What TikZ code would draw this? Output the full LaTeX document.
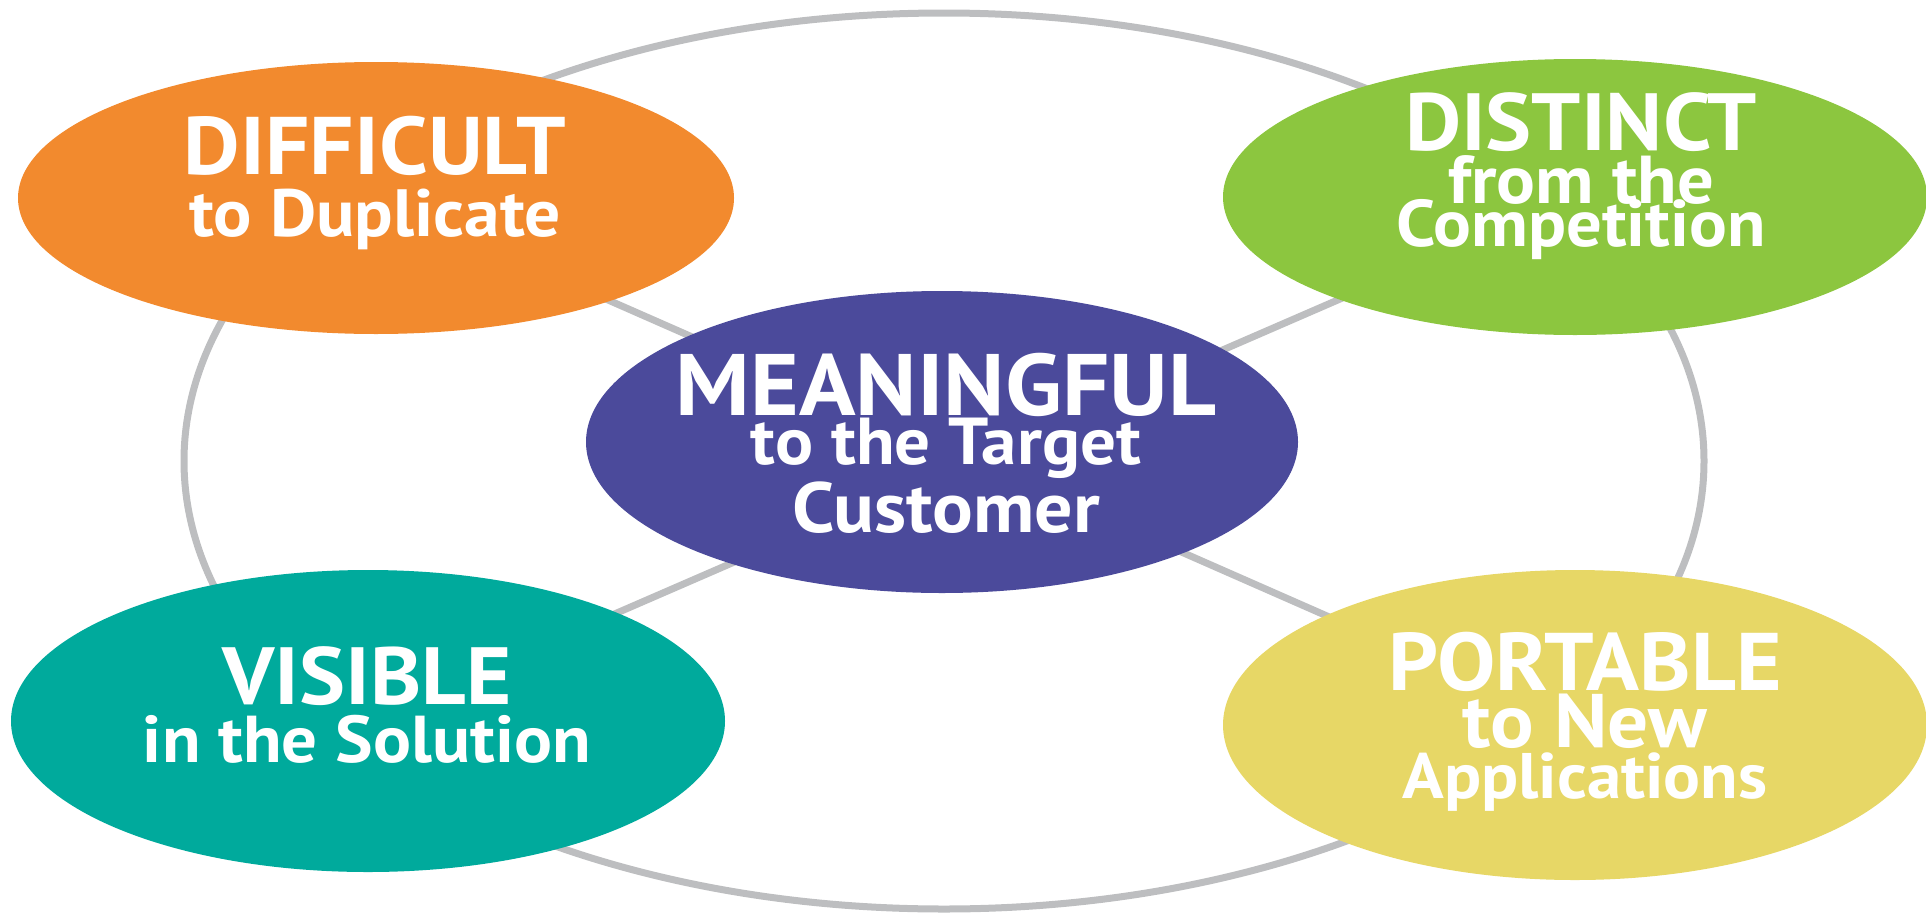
\documentclass[tikz,border=0pt]{standalone}
\usepackage{fontspec}
\usepackage{graphicx}
\newfontfamily\lblfont{PT Sans}[UprightFont={* Bold}, FakeStretch=1.07]
\usetikzlibrary{shapes.geometric,backgrounds}

\definecolor{ringgray}{HTML}{BDBEC0}
\definecolor{cOrange}{HTML}{F28A2E}
\definecolor{cGreen}{HTML}{8CC63F}
\definecolor{cPurple}{HTML}{4B4A9B}
\definecolor{cTeal}{HTML}{00AA9C}
\definecolor{cYellow}{HTML}{E7D766}

\tikzset{
  blob/.style={ellipse, inner sep=0pt, draw=none},
  txt/.style={anchor=base, text=white, inner sep=0pt, font=\lblfont\fontsize{60}{60}\selectfont},
  link/.style={draw=ringgray, line width=7pt},
}
% a line of label text, scaled to a given width
\newcommand{\fitto}[2]{\resizebox{#1pt}{!}{#2}}

\begin{document}
\begin{tikzpicture}[x=1pt,y=-1pt]
  \useasboundingbox (0,0) rectangle (1926,918);

  % the five qualities
  \node[blob, fill=cOrange, minimum width=716pt, minimum height=272pt] (difficult)  at (376,198) {};
  \node[blob, fill=cGreen,  minimum width=704pt, minimum height=276pt] (distinct)   at (1575,197) {};
  \node[blob, fill=cPurple, minimum width=712pt, minimum height=302pt] (meaningful) at (942,442) {};
  \node[blob, fill=cTeal,   minimum width=714pt, minimum height=302pt] (visible)    at (368,721) {};
  \node[blob, fill=cYellow, minimum width=704pt, minimum height=310pt] (portable)   at (1575,725) {};

  % grey ring and diagonals behind the ellipses
  \begin{scope}[on background layer]
    \node[ellipse, draw=ringgray, line width=7pt, inner sep=0pt,
          minimum width=1520pt, minimum height=896pt] (ring) at (944,461) {};
    \draw[link] (difficult.center) -- (portable.center);
    \draw[link] (distinct.center) -- (visible.center);
  \end{scope}

  % labels
  \node[txt] (t1a) at (375,174) {\fitto{382}{DIFFICULT}};
  \node[txt] (t1b) at (375,236) {\fitto{372}{to Duplicate}};

  \node[txt] (t2a) at (1581,150) {\fitto{352}{DISTINCT}};
  \node[txt] (t2b) at (1581,203) {\fitto{266}{from the}};
  \node[txt] (t2c) at (1581,246) {\fitto{369}{Competition}};

  \node[txt] (t3a) at (946,415) {\fitto{540}{MEANINGFUL}};
  \node[txt] (t3b) at (946,464) {\fitto{390}{to the Target}};
  \node[txt] (t3c) at (946,532) {\fitto{308}{Customer}};

  \node[txt] (t4a) at (367,704) {\fitto{289}{VISIBLE}};
  \node[txt] (t4b) at (367,762) {\fitto{448}{in the Solution}};

  \node[txt] (t5a) at (1585,690) {\fitto{394}{PORTABLE}};
  \node[txt] (t5b) at (1585,747) {\fitto{245}{to New}};
  \node[txt] (t5c) at (1585,798) {\fitto{365}{Applications}};
\end{tikzpicture}
\end{document}
